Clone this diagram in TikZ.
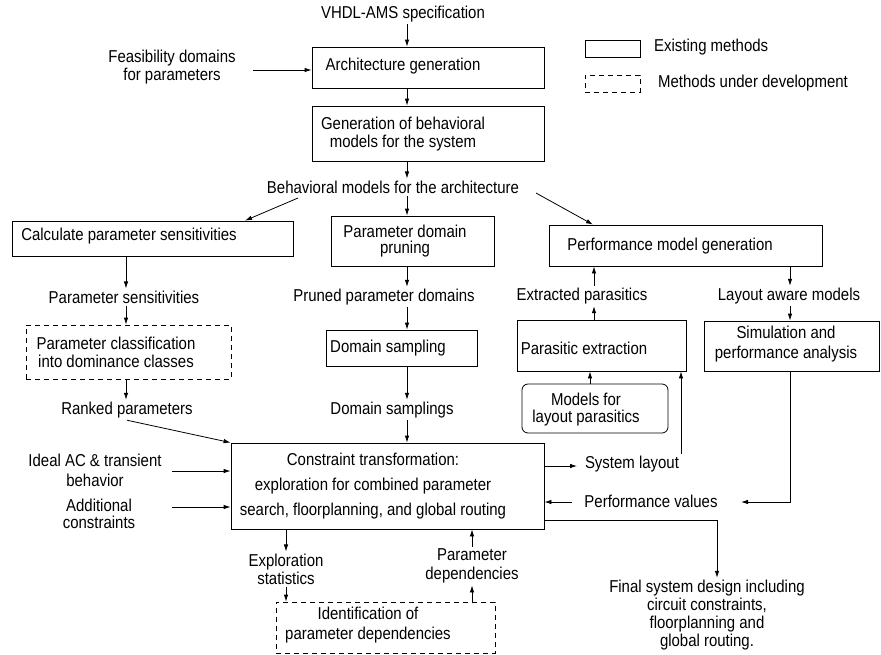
\documentclass[tikz,border=0pt]{standalone}
\usepackage{fontspec}
\setmainfont{Liberation Sans}[FakeStretch=0.87]
\usetikzlibrary{arrows.meta,fit}
\newcommand\myfs[1]{\fontsize{17.2}{#1}\selectfont}
\begin{document}
\begin{tikzpicture}[x=1pt,y=-1pt,
  box/.style={draw, line width=0.8pt, inner sep=0pt},
  dbox/.style={box, dash pattern=on 5pt off 4pt},
  rbox/.style={box, rounded corners=6pt},
  txt/.style={inner sep=2pt, font=\myfs{18}, align=center},
  arr/.style={line width=0.8pt, -{Latex[length=7pt,width=4.5pt]}},
  ln/.style={line width=0.8pt}]
\useasboundingbox (0,0) rectangle (881,654);

% boxes
\node[box, fit={(312,47) (544,88)}] (arch) {};
\node[box, fit={(312,106) (544,161)}] (gen) {};
\node[box, fit={(12,221) (293,256)}] (calc) {};
\node[box, fit={(331,216) (494,266)}] (pdp) {};
\node[box, fit={(549,225) (822,266)}] (perf) {};
\node[dbox, fit={(26,325) (231,379)}] (pclass) {};
\node[box, fit={(326,330) (477,366)}] (dsamp) {};
\node[box, fit={(517,320) (686,371)}] (parx) {};
\node[box, fit={(704,321) (879,371)}] (sim) {};
\node[rbox, fit={(522,384) (668,433)}] (models) {};
\node[box, fit={(231,443) (544,529)}] (con) {};
\node[dbox, fit={(276,602) (495,653)}] (ident) {};
\node[box, fit={(585,40) (640,57)}] (leg1) {};
\node[dbox, fit={(585,75) (640,92)}] (leg2) {};

% texts
\node[txt] (vhdl) at (403,14) {VHDL-AMS specification};
\node[txt] (feas) at (172,67) {Feasibility domains\\for parameters};
\node[txt] (archt) at (403,66) {Architecture generation};
\node[txt] (gent) at (403,134) {Generation of behavioral\\models for the system};
\node[txt] (beh) at (393,187) {Behavioral models for the architecture};
\node[txt] (calct) at (129,236) {Calculate parameter sensitivities};
\node[txt, font=\myfs{16.5}] (pdpt) at (405,241) {Parameter domain\\pruning};
\node[txt] (perft) at (670,246) {Performance model generation};
\node[txt] (psens) at (124,297) {Parameter sensitivities};
\node[txt] (pclasst) at (116,352) {Parameter classification\\into dominance classes};
\node[txt] (ranked) at (127,410) {Ranked parameters};
\node[txt] (pruned) at (384,297) {Pruned parameter domains};
\node[txt] (dsampt) at (388,348) {Domain sampling};
\node[txt] (dsamps) at (392,410) {Domain samplings};
\node[txt] (extr) at (582,296) {Extracted parasitics};
\node[txt] (layaw) at (789,296) {Layout aware models};
\node[txt] (parxt) at (584,348) {Parasitic extraction};
\node[txt, font=\myfs{20}] (simt) at (786,344) {Simulation and\\performance analysis};
\node[txt, font=\myfs{17}] (modelst) at (586,410) {Models for\\layout parasitics};
\node[txt, font=\myfs{25}] (cont) at (373,486) {Constraint transformation:\\exploration for combined parameter\\search, floorplanning, and global routing};
\node[txt, font=\myfs{20}] (ideal) at (95,470) {Ideal AC \& transient\\behavior};
\node[txt, font=\myfs{17}] (addc) at (99,514) {Additional\\constraints};
\node[txt] (syslay) at (632,464) {System layout};
\node[txt] (perfv) at (651,501) {Performance values};
\node[txt] (final) at (707,615) {Final system design including\\circuit constraints,\\floorplanning and\\global routing.};
\node[txt] (expl) at (286,569) {Exploration\\statistics};
\node[txt, font=\myfs{19}] (pdep) at (472,566) {Parameter\\dependencies};
\node[txt, font=\myfs{20}] (identt) at (368,625) {Identification of\\parameter dependencies};
\node[txt, anchor=west] (leg1t) at (652,47) {Existing methods};
\node[txt, anchor=west] (leg2t) at (656,83) {Methods under development};

% column / row coordinates
\coordinate (cA) at (407,0);
\coordinate (cL) at (126,0);
\coordinate (cP) at (594,0);
\coordinate (cR) at (790,0);
\coordinate (cM) at (590,0);
\coordinate (cS) at (681,0);
\coordinate (cE) at (286,0);
\coordinate (cD) at (472,0);
\coordinate (cF) at (717,0);
\coordinate (cIn) at (172,0);
\coordinate (cFe) at (253,0);
\coordinate (rFe) at (0,70);
\coordinate (rI) at (0,471);
\coordinate (rA) at (0,507);
\coordinate (rSys) at (0,466);
\coordinate (rPv) at (0,502);
\coordinate (rFin) at (0,520);
\coordinate (b1) at (298,198);
\coordinate (b2) at (536,193);
\coordinate (cCalcIn) at (245,0);
\coordinate (cPerfIn) at (593,0);
\coordinate (cPvOut) at (572,0);
\coordinate (cPvIn) at (741,0);
\coordinate (cSysIn) at (577,0);

% connectors
\draw[arr] (vhdl.south -| cA) -- (arch.north -| cA);
\draw[arr] (cFe |- rFe) -- (arch.west |- rFe);
\draw[arr] (arch.south -| cA) -- (gen.north -| cA);
\draw[arr] (gen.south -| cA) -- (beh.north -| cA);
\draw[arr] (beh.south -| cA) -- (pdp.north -| cA);
\draw[arr] (b1) -- (calc.north -| cCalcIn);
\draw[arr] (b2) -- (perf.north -| cPerfIn);
\draw[arr] (calc.south -| cL) -- (psens.north -| cL);
\draw[arr] (psens.south -| cL) -- (pclass.north -| cL);
\draw[arr] (pclass.south -| cL) -- (ranked.north -| cL);
\draw[arr] (ranked.south) -- (con.north west);
\draw[arr] (pdp.south -| cA) -- (pruned.north -| cA);
\draw[arr] (pruned.south -| cA) -- (dsamp.north -| cA);
\draw[arr] (dsamp.south -| cA) -- (dsamps.north -| cA);
\draw[arr] (dsamps.south -| cA) -- (con.north -| cA);
\draw[arr] (parx.north -| cP) -- (extr.south -| cP);
\draw[arr] (extr.north -| cP) -- (perf.south -| cP);
\draw[arr] (perf.south -| cR) -- (layaw.north -| cR);
\draw[arr] (layaw.south -| cR) -- (sim.north -| cR);
\draw[arr] (models.north -| cM) -- (parx.south -| cM);
\draw[arr] (con.east |- rSys) -- (cSysIn |- rSys);
\draw[arr] (syslay.north -| cS) -- (parx.south -| cS);
\draw[arr] (cPvOut |- rPv) -- (con.east |- rPv);
\draw[arr] (sim.south -| cR) -- (cR |- rPv) -- (cPvIn |- rPv);
\draw[arr] (con.east |- rFin) -- (cF |- rFin) -- (final.north -| cF);
\draw[arr] (con.south -| cE) -- (expl.north -| cE);
\draw[arr] (expl.south -| cE) -- (ident.north -| cE);
\draw[arr] (ident.north -| cD) -- (pdep.south -| cD);
\draw[arr] (pdep.north -| cD) -- (con.south -| cD);
\draw[arr] (cIn |- rI) -- (con.west |- rI);
\draw[arr] (cIn |- rA) -- (con.west |- rA);
\end{tikzpicture}
\end{document}
